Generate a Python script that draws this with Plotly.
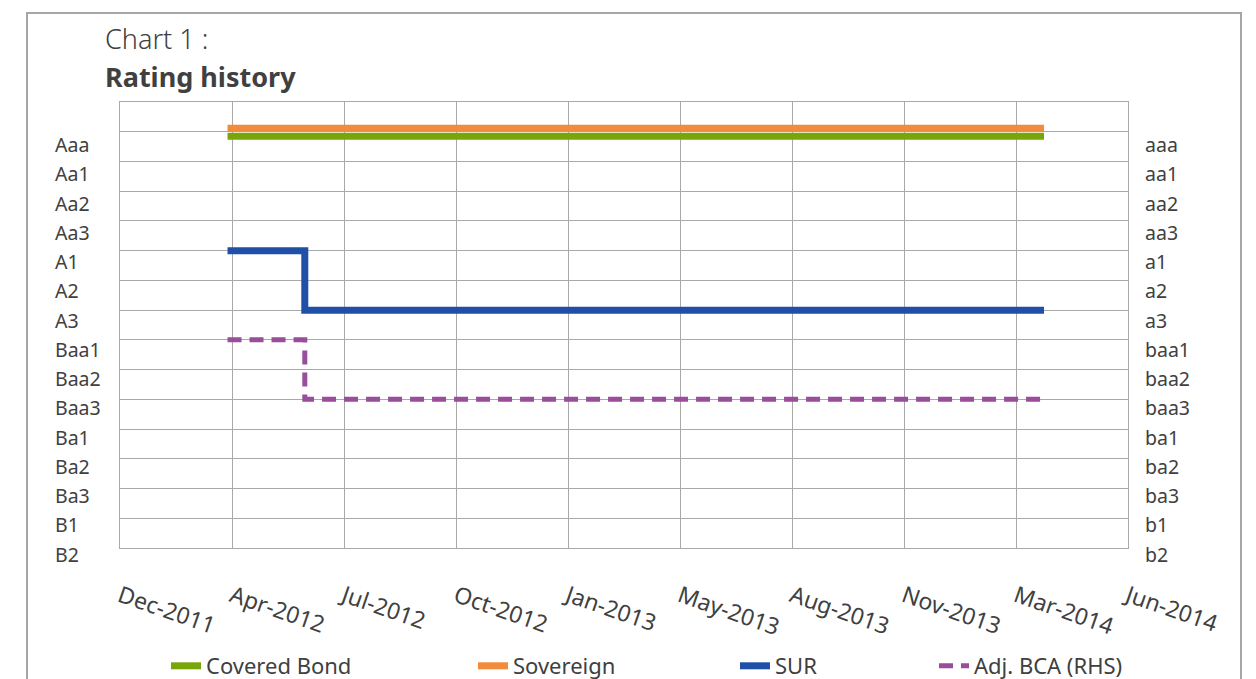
import plotly.graph_objects as go
from datetime import date, timedelta

# ---------------- data ----------------
ratings_lhs = ["Aaa", "Aa1", "Aa2", "Aa3", "A1", "A2", "A3", "Baa1", "Baa2", "Baa3",
               "Ba1", "Ba2", "Ba3", "B1", "B2"]
ratings_rhs = ["aaa", "aa1", "aa2", "aa3", "a1", "a2", "a3", "baa1", "baa2", "baa3",
               "ba1", "ba2", "ba3", "b1", "b2"]
x_tick_labels = ["Dec-2011", "Apr-2012", "Jul-2012", "Oct-2012", "Jan-2013",
                 "May-2013", "Aug-2013", "Nov-2013", "Mar-2014", "Jun-2014"]

# rating notch scale: Aaa = 1 ... B2 = 15
dates_flat = ["2012-03-30", "2014-03-29"]
dates_step = ["2012-03-30", "2012-06-07", "2012-06-07", "2014-03-29"]
covered_bond = [1.15, 1.15]      # Aaa (drawn just under the Aaa line)
sovereign = [0.88, 0.88]         # Aaa (drawn just over the Aaa line)
sur = [5, 5, 7, 7]               # A1 -> A3
adj_bca = [8, 8, 10, 10]         # baa1 -> baa3 (RHS)

# ---------------- layout helpers ----------------
OFF = 8                      # default page body margin around the figure
W, H = 1256 - OFF, 679 - OFF
PLOT_L, PLOT_R, PLOT_T, PLOT_B = 120, 1128, 102, 548   # target screen pixels
ML, MT = PLOT_L - OFF, PLOT_T - OFF
MR, MB = W - (PLOT_R - OFF), H - (PLOT_B - OFF)
PW, PH = W - ML - MR, H - MT - MB
Y_MAX = 15


def px2x(px):
    return (px - PLOT_L) / PW


def px2y(py):
    return (PLOT_B - py) / PH


axis_start = date(2011, 12, 25)
axis_step_days = 100
tick_dates = [(axis_start + timedelta(days=axis_step_days * i)).isoformat()
              for i in range(len(x_tick_labels))]
x_range = [tick_dates[0], tick_dates[-1]]

label_first, label_step = 1.43, 0.984
label_pos = [label_first + label_step * i for i in range(len(ratings_lhs))]

TXT = "#404040"
GRID = "#A9A9A9"
FONT = "Noto Sans"

fig = go.Figure()
fig.add_trace(go.Scatter(x=dates_flat, y=covered_bond, mode="lines", name="Covered Bond",
                         line=dict(color="#78A50A", width=7), legend="legend"))
fig.add_trace(go.Scatter(x=dates_flat, y=sovereign, mode="lines", name="Sovereign",
                         line=dict(color="#F38B3C", width=7), legend="legend2"))
fig.add_trace(go.Scatter(x=dates_step, y=sur, mode="lines", name="SUR",
                         line=dict(color="#1F4FA7", width=7), legend="legend3"))
fig.add_trace(go.Scatter(x=dates_step, y=adj_bca, mode="lines", name="Adj. BCA (RHS)",
                         line=dict(color="#984E9B", width=5, dash="14px,8px"),
                         yaxis="y2", legend="legend4"))

annotations = []
for lab_l, lab_r, pos in zip(ratings_lhs, ratings_rhs, label_pos):
    yp = 1 - pos / Y_MAX
    annotations.append(dict(x=0, xref="paper", xshift=53 - PLOT_L, xanchor="left",
                            y=yp, yref="paper", yanchor="middle", text=lab_l, showarrow=False,
                            font=dict(family=FONT, size=19.5, color=TXT)))
    annotations.append(dict(x=1, xref="paper", xshift=1143 - PLOT_R, xanchor="left",
                            y=yp, yref="paper", yanchor="middle", text=lab_r, showarrow=False,
                            font=dict(family=FONT, size=19.5, color=TXT)))
annotations.append(dict(x=px2x(103), xref="paper", xanchor="left", y=px2y(38), yref="paper",
                        yanchor="middle", text="Chart 1 :", showarrow=False,
                        font=dict(family=FONT, size=27, color=TXT, weight=300)))
annotations.append(dict(x=px2x(103), xref="paper", xanchor="left", y=px2y(76), yref="paper",
                        yanchor="middle", text="<b>Rating history</b>", showarrow=False,
                        font=dict(family=FONT, size=27, color=TXT)))


def legend_at(text_x):
    return dict(x=px2x(text_x - 42), y=px2y(666), xref="paper", yref="paper",
                xanchor="left", yanchor="middle", orientation="h",
                bgcolor="rgba(0,0,0,0)", font=dict(family=FONT, size=22, color=TXT))


fig.update_layout(
    width=W, height=H,
    margin=dict(l=ML, r=MR, t=MT, b=MB, autoexpand=False),
    paper_bgcolor="white", plot_bgcolor="white",
    showlegend=True,
    legend=legend_at(208), legend2=legend_at(515),
    legend3=legend_at(777), legend4=legend_at(976),
    xaxis=dict(type="date", range=x_range, tickvals=tick_dates, ticktext=x_tick_labels,
               tickangle=19, showgrid=True, gridcolor=GRID, gridwidth=1.3,
               showline=True, linecolor=GRID, linewidth=1.3, mirror=True,
               ticks="", ticklabelstandoff=25, zeroline=False,
               tickfont=dict(family=FONT, size=23, color=TXT)),
    yaxis=dict(range=[Y_MAX, 0], tickvals=list(range(Y_MAX + 1)), showticklabels=False,
               showgrid=True, gridcolor=GRID, gridwidth=1.3, zeroline=False,
               showline=True, linecolor=GRID, linewidth=1.3, mirror=True, ticks=""),
    yaxis2=dict(range=[Y_MAX, 0], overlaying="y", side="right", showticklabels=False,
                showgrid=False, zeroline=False, ticks=""),
    annotations=annotations,
    shapes=[dict(type="rect", xref="paper", yref="paper", x0=px2x(27), x1=px2x(1241),
                 y0=px2y(720), y1=px2y(13), line=dict(color="#A6A6A6", width=2),
                 fillcolor="rgba(0,0,0,0)", layer="below")],
)

fig.write_html("out.html")
